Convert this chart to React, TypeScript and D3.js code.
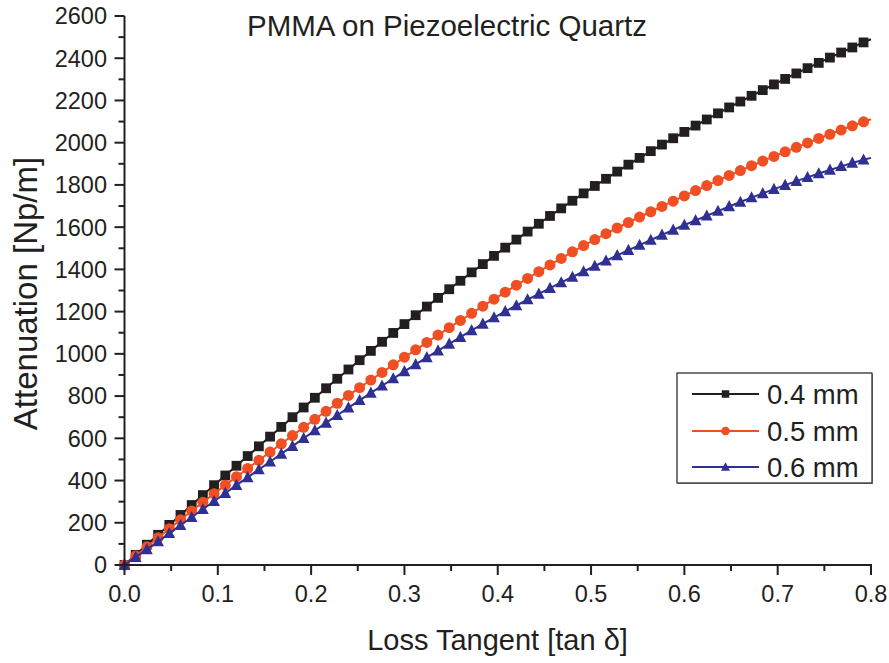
import React from "react";
import * as d3 from "d3";

const lossTangent = [0, 0.012, 0.024, 0.036, 0.048, 0.06, 0.072, 0.084, 0.096, 0.108, 0.12, 0.132, 0.144, 0.156, 0.168, 0.18, 0.192, 0.204, 0.216, 0.228, 0.24, 0.252, 0.264, 0.276, 0.288, 0.3, 0.312, 0.324, 0.336, 0.348, 0.36, 0.372, 0.384, 0.396, 0.408, 0.42, 0.432, 0.444, 0.456, 0.468, 0.48, 0.492, 0.504, 0.516, 0.528, 0.54, 0.552, 0.564, 0.576, 0.588, 0.6, 0.612, 0.624, 0.636, 0.648, 0.66, 0.672, 0.684, 0.696, 0.708, 0.72, 0.732, 0.744, 0.756, 0.768, 0.78, 0.792, 0.8];

const att04 = [0, 48, 96, 143, 190, 237, 284, 331, 378, 424, 470, 516, 562, 608, 654, 700, 746, 792, 837, 882, 926, 970, 1014, 1057, 1099, 1141, 1183, 1224, 1265, 1306, 1346, 1386, 1425, 1464, 1503, 1541, 1579, 1616, 1653, 1689, 1725, 1760, 1795, 1829, 1863, 1896, 1928, 1960, 1991, 2021, 2051, 2081, 2110, 2139, 2167, 2195, 2222, 2249, 2276, 2302, 2328, 2353, 2378, 2403, 2427, 2451, 2475, 2490];

const att05 = [0, 43, 86, 129, 172, 214, 256, 297, 338, 378, 418, 457, 496, 535, 574, 613, 652, 690, 728, 766, 803, 840, 876, 912, 948, 984, 1019, 1054, 1089, 1124, 1158, 1192, 1226, 1259, 1292, 1325, 1357, 1389, 1421, 1452, 1483, 1513, 1541, 1569, 1596, 1622, 1648, 1673, 1698, 1723, 1748, 1773, 1797, 1821, 1845, 1868, 1891, 1913, 1935, 1957, 1978, 1999, 2020, 2040, 2060, 2080, 2099, 2111];

const att06 = [0, 37, 74, 111, 150, 188, 226, 264, 302, 340, 378, 415, 452, 489, 526, 563, 600, 637, 673, 709, 745, 780, 815, 849, 883, 917, 950, 983, 1015, 1047, 1079, 1111, 1142, 1172, 1201, 1229, 1257, 1284, 1311, 1338, 1364, 1390, 1416, 1441, 1466, 1491, 1515, 1539, 1563, 1587, 1610, 1632, 1654, 1676, 1698, 1719, 1740, 1760, 1780, 1799, 1818, 1836, 1854, 1871, 1888, 1904, 1919, 1928];

const seriesNames = ["0.4 mm", "0.5 mm", "0.6 mm"];
const seriesColors = ["#231f20", "#f04e23", "#2e3192"];
const seriesShapes = ["square", "circle", "triangle"];

const xTicks = [0, 0.1, 0.2, 0.3, 0.4, 0.5, 0.6, 0.7, 0.8];
const xMinorTicks = [0.05, 0.15, 0.25, 0.35, 0.45, 0.55, 0.65, 0.75];
const yTicks = [0, 200, 400, 600, 800, 1000, 1200, 1400, 1600, 1800, 2000, 2200, 2400, 2600];
const yMinorTicks = [100, 300, 500, 700, 900, 1100, 1300, 1500, 1700, 1900, 2100, 2300, 2500];

const titleText = "PMMA on Piezoelectric Quartz";
const xTitle = "Loss Tangent [tan δ]";
const yTitle = "Attenuation [Np/m]";

const W = 889;
const H = 663;
const FONT = "'Liberation Sans', Arial, Helvetica, sans-serif";
const AXIS = "#231f20";

function Marker({ shape, x, y, color, size }: { shape: string; x: number; y: number; color: string; size: number }) {
  if (shape === "square") {
    return <rect x={x - size / 2} y={y - size / 2} width={size} height={size} fill={color} />;
  }
  if (shape === "circle") {
    return <circle cx={x} cy={y} r={size / 2 + 0.6} fill={color} />;
  }
  const s = size * 1.2;
  const h = s * 0.9;
  return (
    <path
      d={`M${x},${y - h * 0.6} L${x + s / 2},${y + h * 0.45} L${x - s / 2},${y + h * 0.45} Z`}
      fill={color}
    />
  );
}

export default function App() {
  const x = d3.scaleLinear().domain([0, 0.8]).range([124.5, 871]);
  const y = d3.scaleLinear().domain([0, 2600]).range([565, 16]);
  const series = [att04, att05, att06];

  const line = d3
    .line<number>()
    .x((_, i) => x(lossTangent[i]))
    .y((d) => y(d));

  const fmtX = d3.format(".1f");

  const legendX = 677;
  const legendY = 373;
  const legendRows = [394, 431, 467];

  return (
    <svg
      width={W}
      height={H}
      style={{ position: "absolute", left: 0, top: 0, background: "#fff" }}
      fontFamily={FONT}
    >
      <rect x={0} y={0} width={W} height={H} fill="#fff" />

      {/* title */}
      <text x={447} y={36} textAnchor="middle" fontSize={29.5} fill={AXIS}>
        {titleText}
      </text>

      {/* series */}
      {series.map((vals, si) => (
        <g key={si}>
          <path d={line(vals) || ""} fill="none" stroke={seriesColors[si]} strokeWidth={2} />
          {vals.slice(0, vals.length - 1).map((v, i) => (
            <Marker
              key={i}
              shape={seriesShapes[si]}
              x={x(lossTangent[i])}
              y={y(v)}
              color={seriesColors[si]}
              size={9.8}
            />
          ))}
        </g>
      ))}

      {/* axes */}
      <line x1={x(0)} x2={x(0.8) + 1} y1={y(0)} y2={y(0)} stroke={AXIS} strokeWidth={2} />
      <line x1={x(0)} x2={x(0)} y1={y(0) + 1} y2={y(2600)} stroke={AXIS} strokeWidth={2} />

      {xTicks.map((t) => (
        <g key={"xt" + t}>
          <line x1={x(t)} x2={x(t)} y1={y(0)} y2={y(0) + 10} stroke={AXIS} strokeWidth={2} />
          <text x={x(t)} y={602} textAnchor="middle" fontSize={23.5} fill={AXIS}>
            {fmtX(t)}
          </text>
        </g>
      ))}
      {xMinorTicks.map((t) => (
        <line key={"xm" + t} x1={x(t)} x2={x(t)} y1={y(0)} y2={y(0) + 6} stroke={AXIS} strokeWidth={2} />
      ))}

      {yTicks.map((t) => (
        <g key={"yt" + t}>
          <line x1={x(0) - 10} x2={x(0)} y1={y(t)} y2={y(t)} stroke={AXIS} strokeWidth={2} />
          <text x={107} y={y(t) + 8.4} textAnchor="end" fontSize={23.5} fill={AXIS}>
            {t}
          </text>
        </g>
      ))}
      {yMinorTicks.map((t) => (
        <line key={"ym" + t} x1={x(0) - 6} x2={x(0)} y1={y(t)} y2={y(t)} stroke={AXIS} strokeWidth={2} />
      ))}

      {/* axis titles */}
      <text x={497.5} y={650} textAnchor="middle" fontSize={29} fill={AXIS}>
        {xTitle}
      </text>
      <text
        transform={`translate(37,293.5) rotate(-90)`}
        textAnchor="middle"
        fontSize={33}
        fill={AXIS}
      >
        {yTitle}
      </text>

      {/* legend */}
      <rect x={legendX + 1} y={legendY + 1} width={195} height={110} fill="#999" />
      <rect x={legendX} y={legendY} width={195} height={110} fill="#fff" stroke={AXIS} strokeWidth={1.2} />
      {seriesNames.map((name, i) => (
        <g key={name}>
          <line x1={692} x2={759} y1={legendRows[i]} y2={legendRows[i]} stroke={seriesColors[i]} strokeWidth={2} />
          <Marker shape={seriesShapes[i]} x={725.5} y={legendRows[i]} color={seriesColors[i]} size={7.5} />
          <text x={767} y={legendRows[i] + 9.5} fontSize={27.5} fill={AXIS}>
            {name}
          </text>
        </g>
      ))}
    </svg>
  );
}
